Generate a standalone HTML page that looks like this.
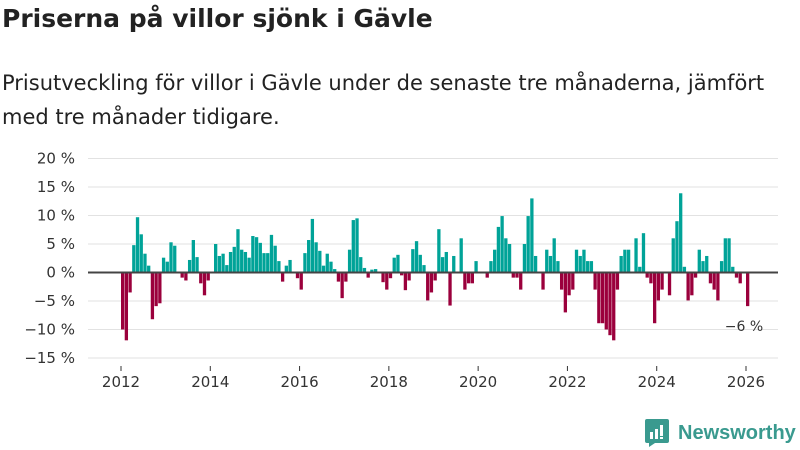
<!DOCTYPE html>
<html><head><meta charset="utf-8">
<style>
body{margin:0;width:800px;height:450px;background:#fff;font-family:"DejaVu Sans","Liberation Sans",sans-serif;overflow:hidden;position:relative}
#title{position:absolute;left:2px;top:4px;font-size:25px;font-weight:bold;color:#222;margin:0;white-space:nowrap}
#sub{position:absolute;left:2px;top:66px;font-size:21px;line-height:34px;color:#222;width:798px;white-space:nowrap}
#logo{position:absolute;left:645px;top:419px;display:flex;align-items:center}
#logo span{font-family:"Liberation Sans",sans-serif;font-size:20px;color:#3a9a8f;margin-left:9px;font-weight:bold}
</style></head><body>
<h1 id="title">Priserna på villor sjönk i Gävle</h1>
<div id="sub">Prisutveckling för villor i Gävle under de senaste tre månaderna, jämfört<br>med tre månader tidigare.</div>
<svg id="chart" width="800" height="450" style="position:absolute;left:0;top:0"></svg>
<div id="logo">
<svg width="24" height="28" viewBox="0 0 24 28"><path d="M2 0h20a2 2 0 0 1 2 2v20a2 2 0 0 1-2 2H10l-6 4v-4H2a2 2 0 0 1-2-2V2a2 2 0 0 1 2-2z" fill="#3a9a8f"/><rect x="5" y="13" width="3" height="7" fill="#fff"/><rect x="10" y="10" width="3" height="10" fill="#fff"/><rect x="15" y="6" width="3" height="11" fill="#fff"/><rect x="15" y="18" width="3" height="2" fill="#fff"/></svg>
<span>Newsworthy</span></div>
<script>
const startYear = 2012;
const values = [-10,-11.9,-3.5,4.8,9.7,6.7,3.3,1.2,-8.2,-5.9,-5.4,2.6,1.9,5.3,4.7,0,-0.9,-1.4,2.2,5.7,2.7,-1.9,-4,-1.4,0,5.0,2.9,3.3,1.3,3.6,4.5,7.6,4.0,3.6,2.6,6.4,6.2,5.2,3.4,3.4,6.6,4.7,2.0,
-1.6,1.2,2.2,0,-1.0,-3.0,3.4,5.7,9.4,5.3,3.8,1.2,3.3,1.9,0.6,-1.6,-4.5,-1.6,4.0,9.2,9.5,2.7,0.8,-0.9,0.5,0.6,0,-1.7,-3.0,-1.0,2.6,3.1,-0.5,-3.1,-1.4,4.1,5.5,3.1,1.3,-4.9,-3.5,-1.4,7.6,2.7,
3.6,-5.8,2.9,0,6.0,-3.0,-1.9,-1.9,2.0,0,0,-0.9,2.0,4.0,8.0,9.9,6.0,5.0,-0.9,-0.9,-3.0,5.0,9.9,13.0,2.9,0,-3.0,4.0,2.9,6.0,2.0,-3.0,-7.0,-4.0,-3.0,4.0,2.9,4.0,2.0,2.0,-3.0,
-8.9,-8.9,-10,-11,-11.9,-3.0,2.9,4.0,4.0,0,6.0,1.0,6.9,-0.9,-1.9,-8.9,-4.9,-3.0,0,-4.0,6.0,9.0,13.9,1.0,-4.9,-4.0,-0.9,4.0,2.0,2.9,-1.9,-3.0,-4.9,2.0,6.0,6.0,1.0,-0.9,-1.9,0,-5.9];
const yTicks = [20,15,10,5,0,-5,-10,-15];
const yTickLabels = ["20 %","15 %","10 %","5 %","0 %","−5 %","−10 %","−15 %"];
const xTicks = [2012,2014,2016,2018,2020,2022,2024,2026];
const lastLabel = "−6 %";

const svg = document.getElementById('chart');
const NS = 'http://www.w3.org/2000/svg';
const x = t => 121 + (t - 2012) * (625 / 14);
const y = v => 272.5 - v * 5.7;
function mk(tag, attrs){const e=document.createElementNS(NS,tag);for(const k in attrs)e.setAttribute(k,attrs[k]);svg.appendChild(e);return e;}
yTicks.forEach((v,i)=>{
  const g = mk('line',{x1:88,x2:778,y1:y(v),y2:y(v),stroke:'#e2e2e2','stroke-width':1});
  
  
  const t = mk('text',{x:75,y:y(v)+5,'text-anchor':'end','font-size':15,fill:'#333','font-family':'DejaVu Sans, sans-serif'});
  t.textContent = yTickLabels[i];
  
  
});
xTicks.forEach(yr=>{
  const tk = mk('line',{x1:x(yr),x2:x(yr),y1:366,y2:371,stroke:'#333'});
  
  
  const t = mk('text',{x:x(yr),y:387,'text-anchor':'middle','font-size':15,fill:'#333','font-family':'DejaVu Sans, sans-serif'});
  t.textContent = yr;
  
  
});
values.forEach((v,i)=>{
  const t = startYear + i/12;
  const b = mk('rect',{x:x(t),width:3.3,y:Math.min(y(v),y(0)),height:Math.abs(y(v)-y(0)),fill:v>=0?'#00a398':'#9b003c'});
  
  
});
const z = mk('line',{x1:88,x2:778,y1:y(0),y2:y(0),stroke:'#444','stroke-width':2});


const lt = mk('text',{x:744,y:331,'text-anchor':'middle','font-size':14,fill:'#333','font-family':'DejaVu Sans, sans-serif'});
lt.textContent = lastLabel;


</script>
</body></html>
